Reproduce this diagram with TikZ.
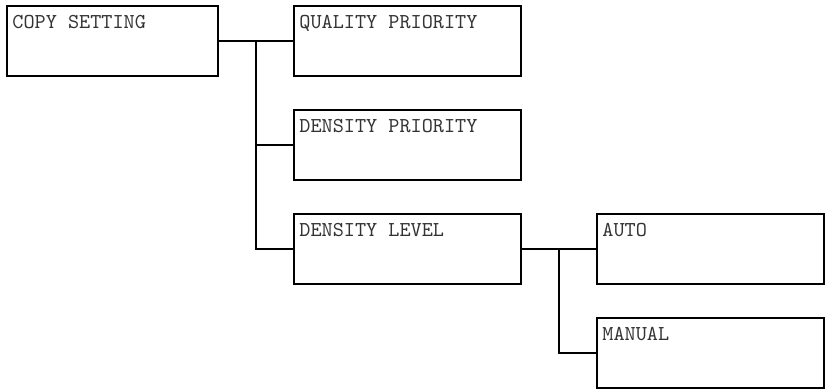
\documentclass[tikz,border=0pt]{standalone}
\usepackage{fontspec}

\begin{document}
\begin{tikzpicture}[x=0.5pt,y=-0.5pt]
	\tikzset{menu box/.style={draw,line width=1pt,anchor=north west,minimum height=35pt,inner sep=0pt,outer sep=0pt}}
	\tikzset{wide box/.style={menu box,minimum width=113.5pt}}
	\tikzset{box text/.style={anchor=base west,inner sep=0pt,text=black!80,font=\ttfamily\fontsize{10.6}{12}\selectfont,xshift=2.5pt,yshift=-11.25pt}}
	\tikzset{tree line/.style={line width=1pt}}
	\useasboundingbox (0,0) rectangle (825,388);
	\node[menu box,minimum width=105.5pt,label={[box text]north west:COPY SETTING}] (copy) at (7,6) {};
	\node[wide box,label={[box text]north west:QUALITY PRIORITY}] (quality) at (294,6) {};
	\node[wide box,label={[box text]north west:DENSITY PRIORITY}] (dprio) at (294,110) {};
	\node[wide box,label={[box text]north west:DENSITY LEVEL}] (dlevel) at (294,214) {};
	\node[wide box,label={[box text]north west:AUTO}] (auto) at (597,214) {};
	\node[wide box,label={[box text]north west:MANUAL}] (manual) at (597,318) {};
	\coordinate (fork1) at (256,41);
	\coordinate (fork2) at (559,249);
	\draw[tree line] (copy.east) -- (quality.west);
	\draw[tree line] (fork1) |- (dprio.west);
	\draw[tree line] (fork1) |- (dlevel.west);
	\draw[tree line] (dlevel.east) -- (auto.west);
	\draw[tree line] (fork2) |- (manual.west);
\end{tikzpicture}
\end{document}
